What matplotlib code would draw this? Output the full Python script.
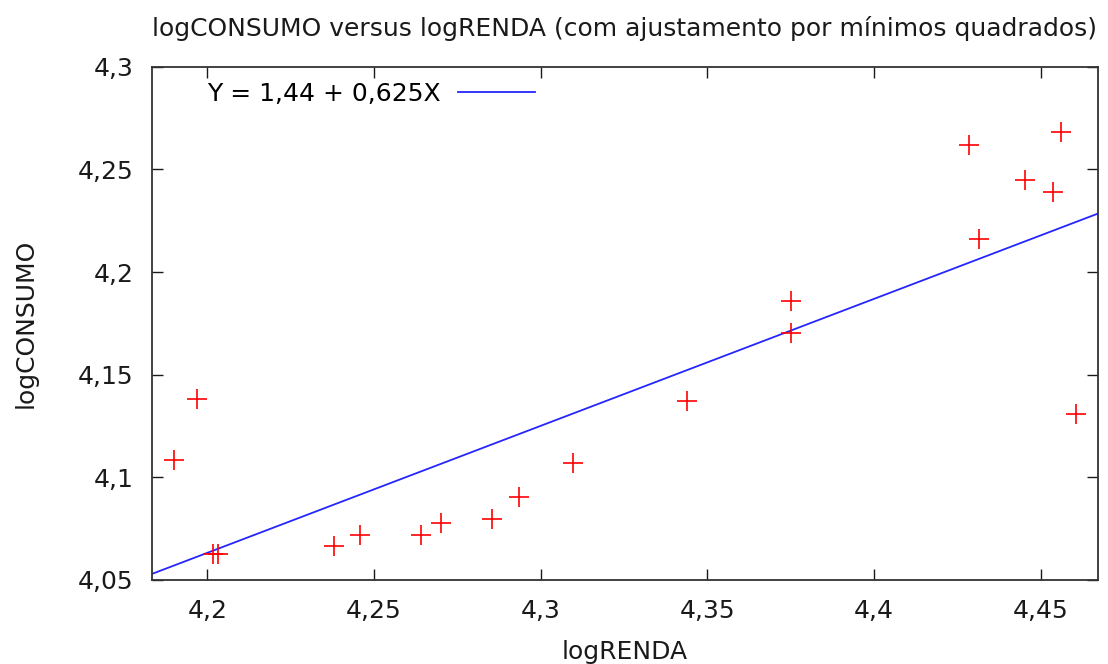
import numpy as np
import matplotlib
matplotlib.use('Agg')
import matplotlib.pyplot as plt

#  Data
log_renda = [4.190, 4.197, 4.2018, 4.2031, 4.238, 4.2458, 4.2641, 4.270, 4.2855, 4.2935,
             4.3096, 4.3439, 4.3752, 4.3752, 4.4286, 4.4315, 4.4453, 4.4536, 4.4561, 4.4606]
log_consumo = [4.1084, 4.1382, 4.0629, 4.0629, 4.0665, 4.0718, 4.0718, 4.0777, 4.0798, 4.0906,
               4.1069, 4.1371, 4.1858, 4.1705, 4.2618, 4.2161, 4.2448, 4.2389, 4.2681, 4.1307]
fit_label = 'Y = 1,44 + 0,625X'
x_ticks = [4.2, 4.25, 4.3, 4.35, 4.4, 4.45]
x_ticklabels = ['4,2', '4,25', '4,3', '4,35', '4,4', '4,45']
y_ticks = [4.05, 4.1, 4.15, 4.2, 4.25, 4.3]
y_ticklabels = ['4,05', '4,1', '4,15', '4,2', '4,25', '4,3']

plt.rcParams['font.family'] = 'DejaVu Sans'

fig = plt.figure(figsize=(11.08, 6.64), dpi=100)
ax = fig.add_axes([151.7/1108, 1 - 580/664, (1098 - 151.7)/1108, (580 - 66.7)/664])

xmin, xmax = 4.1833, 4.4672
ymin, ymax = 4.05, 4.30

#  Least squares line
b, a = np.polyfit(log_renda, log_consumo, 1)
xs = np.array([xmin, xmax])
ax.plot(xs, a + b*xs, color='#2525ff', lw=1.3, label=fit_label)
ax.plot(log_renda, log_consumo, '+', color='#ff0000', ms=15, mew=1.2, linestyle='none')

ax.set_xlim(xmin, xmax)
ax.set_ylim(ymin, ymax)
ax.set_xticks(x_ticks)
ax.set_xticklabels(x_ticklabels)
ax.set_yticks(y_ticks)
ax.set_yticklabels(y_ticklabels)
ax.tick_params(direction='in', length=8, width=1.0, top=True, right=True,
               labelsize=18, colors='#1a1a1a')
ax.tick_params(axis='x', pad=14)
ax.tick_params(axis='y', pad=13)
for s in ax.spines.values():
    s.set_linewidth(1.3)
    s.set_color('#333333')

ax.set_title('logCONSUMO versus logRENDA (com ajustamento por mínimos quadrados)',
             fontsize=18, pad=22, color='#1a1a1a')
ax.set_xlabel('logRENDA', fontsize=18, labelpad=12, color='#1a1a1a')
ax.set_ylabel('logCONSUMO', fontsize=18, labelpad=29, color='#1a1a1a')

ax.legend(loc='center left', bbox_to_anchor=(0.0581, 0.9468), frameon=False, markerfirst=False,
          fontsize=18, handlelength=3.1, handletextpad=0.7, borderpad=0, borderaxespad=0)

plt.savefig('out.png', dpi=100)
